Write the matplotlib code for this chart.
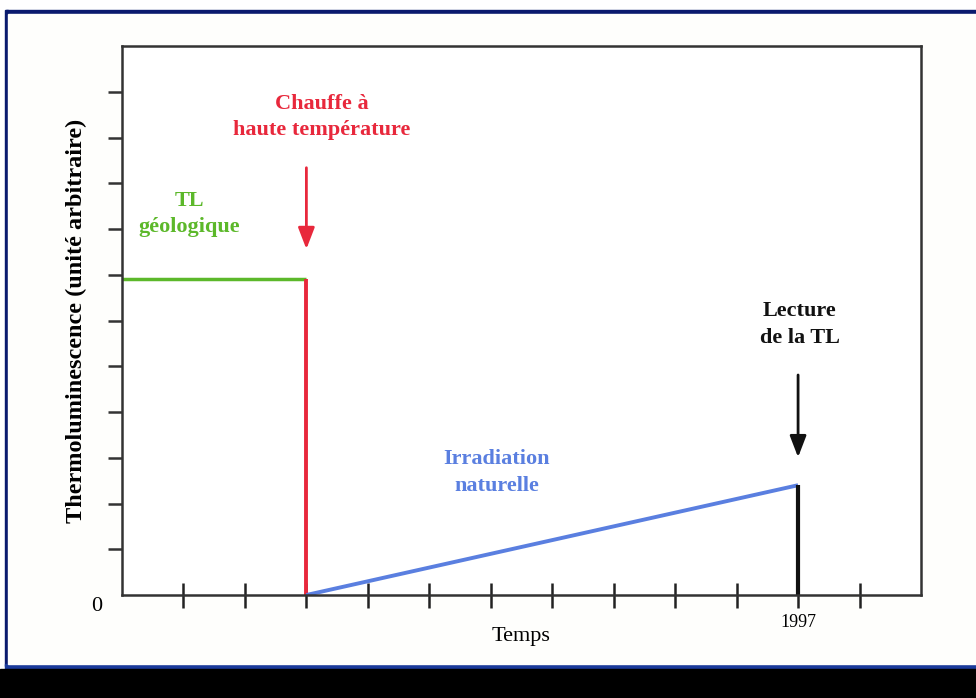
import matplotlib.pyplot as plt
from matplotlib.patches import Rectangle

# data (time in tick units, TL in arbitrary units)
geo_x = [0, 3]
geo_y = [6.9, 6.9]
heat_x = [3, 3]
heat_y = [6.9, 0]
irr_x = [3, 11]
irr_y = [0, 2.4]
read_x = [11, 11]
read_y = [0, 2.4]
x_ticks = list(range(1, 13))
y_ticks = list(range(1, 12))

serif = ['Liberation Serif', 'DejaVu Serif']
W, H = 976, 698

fig = plt.figure(figsize=(9.76, 6.98), dpi=100, facecolor='white')

# frame of the slide: navy lines and black band
def px_rect(x0, y0, x1, y1, color):
    fig.patches.append(Rectangle((x0 / W, 1 - y1 / H), (x1 - x0) / W, (y1 - y0) / H,
                                 transform=fig.transFigure, color=color, zorder=-5))

px_rect(6, 10, W, 14, '#0a1a6e')
px_rect(5, 10, 8, 666, '#0a1a6e')
px_rect(5, 664, W, 670, '#1a3a9a')
px_rect(0, 669, W, H, '#000000')
px_rect(8, 14, W, 664, '#fefefc')

ax = fig.add_axes([122 / W, 1 - 595 / H, (921 - 122) / W, (595 - 46) / H])
ax.set_zorder(2)
ax.set_facecolor('white')
ax.set_xlim(0, 13)
ax.set_ylim(0, 12)

for s in ax.spines.values():
    s.set_color('#333333')
    s.set_linewidth(1.8)

ax.set_xticks(x_ticks)
ax.set_xticklabels(['' if t != 11 else '1997' for t in x_ticks],
                   fontfamily=serif, fontsize=13)
ax.set_yticks(y_ticks)
ax.set_yticklabels([])
ax.tick_params(axis='x', direction='inout', length=18, width=1.8, color='#222222', pad=5)
ax.tick_params(axis='y', direction='out', length=10, width=1.8, color='#333333')

ax.plot(geo_x, geo_y, color='#5cb82a', lw=2.5, solid_capstyle='butt')
ax.plot(heat_x, heat_y, color='#e8283c', lw=2.8, solid_capstyle='butt')
ax.plot(irr_x, irr_y, color='#5a7fe0', lw=2.8, solid_capstyle='butt')
ax.plot(read_x, read_y, color='#111111', lw=3, solid_capstyle='butt')

# arrows
ax.annotate('', xy=(3, 7.5), xytext=(3, 9.4),
            arrowprops=dict(arrowstyle='-|>,head_length=1.3,head_width=0.5',
                            color='#e8283c', lw=2))
ax.annotate('', xy=(11, 2.95), xytext=(11, 4.87),
            arrowprops=dict(arrowstyle='-|>,head_length=1.3,head_width=0.5',
                            color='#111111', lw=2))

tkw = dict(ha='center', va='center', fontfamily=serif, fontweight='bold',
           fontsize=16, linespacing=1.45)
ax.text(1.1, 8.33, 'TL\ngéologique', color='#5cb82a', **tkw)
ax.text(3.25, 10.45, 'Chauffe à\nhaute température', color='#e8283c', **tkw)
ax.text(6.1, 2.67, 'Irradiation\nnaturelle', color='#5a7fe0', **tkw)
ax.text(11.03, 5.92, 'Lecture\nde la TL', color='#111111', **tkw)

ax.text(-0.41, -0.26, '0', ha='center', va='center', fontfamily=serif,
        fontsize=16, clip_on=False)
ax.set_xlabel('Temps', fontfamily=serif, fontsize=16, labelpad=-3)
ax.set_ylabel('Thermoluminescence (unité arbitraire)', fontfamily=serif,
              fontweight='bold', fontsize=17.5, labelpad=12)

fig.savefig('out.png', dpi=100, facecolor=fig.get_facecolor())
